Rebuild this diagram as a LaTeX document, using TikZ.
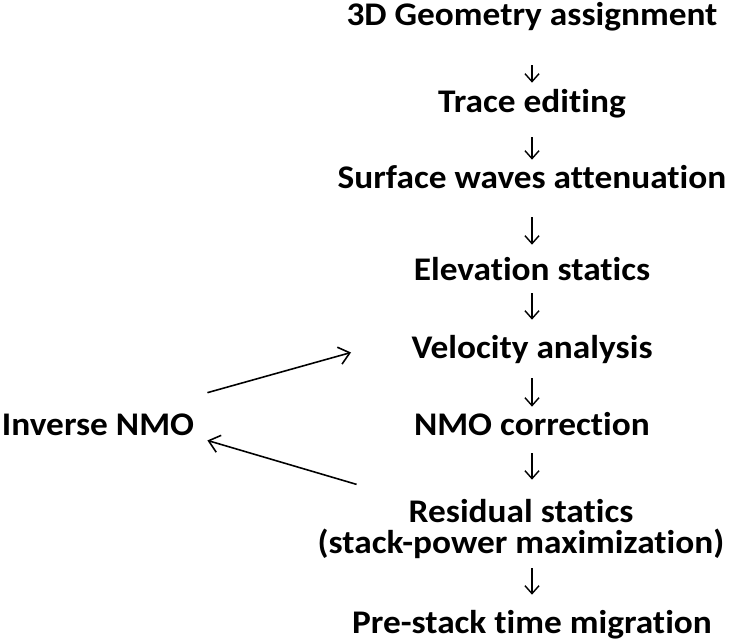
\documentclass[tikz,border=0pt]{standalone}
\usepackage{fontspec}
\setmainfont{Carlito}[FakeStretch=1.07,Ligatures=NoCommon]
\usepackage{tikz}
\usetikzlibrary{arrows.meta}
\tikzset{
  stp/.style  ={font=\fontsize{18.8}{18.8}\selectfont\bfseries, inner sep=0pt,
                text height=0.44cm, text depth=0.12cm, anchor=base},
  side/.style ={stp, inner xsep=0.26cm, inner ysep=0.4cm},
  dn/.style   ={draw=black, line width=0.8pt, -{Straight Barb[length=4.5pt,width=8pt]}},
  fb/.style   ={draw=black, line width=0.9pt, -{Straight Barb[length=6pt,width=10pt]}},
}
\begin{document}
\begin{tikzpicture}[x=0.02cm,y=-0.02cm]
  % one unit = one pixel of the 731 x 643 sheet, y running downwards
  \useasboundingbox (0,0) rectangle (731,643);
  \def\cx{532}   % centre line of the flow

  % ---------------- main flow --------------------------------------------
  \node[stp] (geo)  at (\cx,25)  {3D Geometry assignment};
  \node[stp] (trc)  at (\cx,112) {Trace editing};
  \node[stp] (srf)  at (\cx,188) {Surface waves attenuation};
  \node[stp] (elv)  at (\cx,280) {Elevation statics};
  \node[stp] (vel)  at (\cx,358) {Velocity analysis};
  \node[stp] (nmo)  at (\cx,435) {NMO correction};
  \node[stp] (res)  at (521,522) {Residual statics};
  \node[stp] (resx) at (521,553) {(stack-power maximization)};
  \node[stp] (mig)  at (\cx,633) {Pre-stack time migration};

  % all down arrows stay on the column of the first step
  \foreach \u/\v/\a/\b in {geo/trc/0.68/0.14, trc/srf/0.38/0.12, srf/elv/0.46/0.26,
                           elv/vel/0.14/0.32, vel/nmo/0.28/0.12, nmo/res/0.24/0.4,
                           resx/mig/0.18/0.32}
    \draw[dn, shorten <=\a cm, shorten >=\b cm] (\u.south -| geo.south) -- (\v.north -| geo.south);

  % ---------------- side loop --------------------------------------------
  \node[side] (inv) at (98,435) {Inverse NMO};
  \draw[fb, shorten >=1.25cm] (inv.north east) -- (vel.north west);
  \draw[fb, shorten <=1.08cm] (res.north west) -- (inv.-7.5);
\end{tikzpicture}
\end{document}
